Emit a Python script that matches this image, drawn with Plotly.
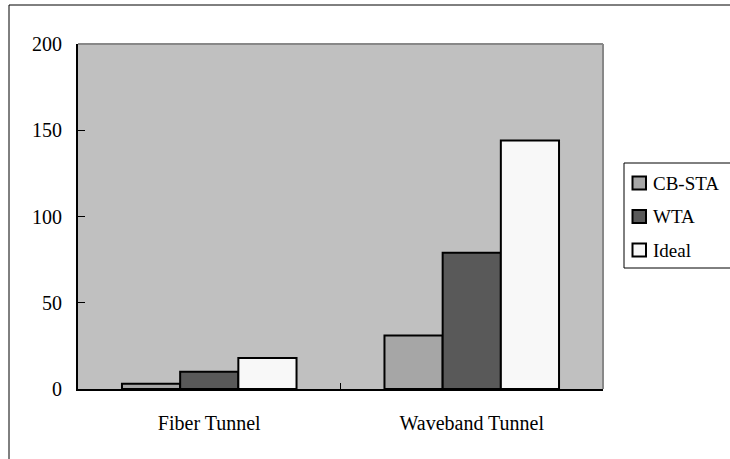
import plotly.graph_objects as go

categories = ["Fiber Tunnel", "Waveband Tunnel"]
series_names = ["CB-STA", "WTA", "Ideal"]
cb_sta = [3, 31]
wta = [10, 79]
ideal = [18, 144]
colors = ["#a6a6a6", "#595959", "#f8f8f8"]
y_ticks = [0, 50, 100, 150, 200]

FONT = "Liberation Serif"
W, H = 730, 459
L, R, T, B = 78, 127, 44, 70
PW, PH = W - L - R, H - T - B


def px(x):
    return (x - L) / PW


def py(y):
    return (H - B - y) / PH


fig = go.Figure()
for name, vals, col in zip(series_names, [cb_sta, wta, ideal], colors):
    fig.add_trace(go.Bar(
        name=name, x=categories, y=vals,
        marker=dict(color=col, line=dict(color="black", width=2)),
        showlegend=False,
    ))

shapes = [
    dict(type="line", xref="paper", yref="paper", x0=0, x1=1, y0=1, y1=1,
         line=dict(color="#888888", width=2), layer="above"),
    dict(type="line", xref="paper", yref="paper", x0=1, x1=1, y0=0, y1=1,
         line=dict(color="#888888", width=2), layer="above"),
    dict(type="line", xref="paper", yref="paper", x0=px(9), x1=px(9), y0=py(470), y1=py(5),
         line=dict(color="black", width=1)),
    dict(type="line", xref="paper", yref="paper", x0=px(9), x1=px(745), y0=py(5), y1=py(5),
         line=dict(color="black", width=1)),
    # legend box
    dict(type="rect", xref="paper", yref="paper", x0=px(624), x1=px(745), y0=py(268), y1=py(163),
         line=dict(color="black", width=1), fillcolor="white"),
]
annotations = []
centers = [183, 216.5, 250]
for name, col, cy in zip(series_names, colors, centers):
    shapes.append(dict(type="rect", xref="paper", yref="paper",
                       x0=px(632.5), x1=px(646), y0=py(cy + 6.5), y1=py(cy - 6.5),
                       line=dict(color="black", width=2), fillcolor=col))
    annotations.append(dict(text=name, xref="paper", yref="paper", x=px(651), y=py(cy),
                            xanchor="left", yanchor="middle", showarrow=False,
                            font=dict(family=FONT, size=19, color="black")))

fig.update_layout(
    width=W, height=H,
    margin=dict(l=L, r=R, t=T, b=B, autoexpand=False),
    paper_bgcolor="white",
    plot_bgcolor="#c0c0c0",
    barmode="group", bargap=0.335, bargroupgap=0,
    font=dict(family=FONT, size=19, color="black"),
    showlegend=False,
    xaxis=dict(
        showgrid=False, showline=True, linecolor="black", linewidth=2,
        ticks="inside", ticklen=6, tickcolor="black", tickwidth=1,
        tickson="boundaries", ticklabelstandoff=15,
        tickfont=dict(family=FONT, size=20),
    ),
    yaxis=dict(
        range=[0, 200], tickvals=y_ticks, showgrid=False,
        showline=True, linecolor="black", linewidth=2,
        ticks="inside", ticklen=7, tickcolor="black", tickwidth=1,
        ticklabelstandoff=10, zeroline=False,
        tickfont=dict(family=FONT, size=20),
    ),
    shapes=shapes,
    annotations=annotations,
)

fig.write_html("out.html", config={"displayModeBar": False},
               post_script="document.body.style.margin='0';document.body.style.overflow='hidden';")
